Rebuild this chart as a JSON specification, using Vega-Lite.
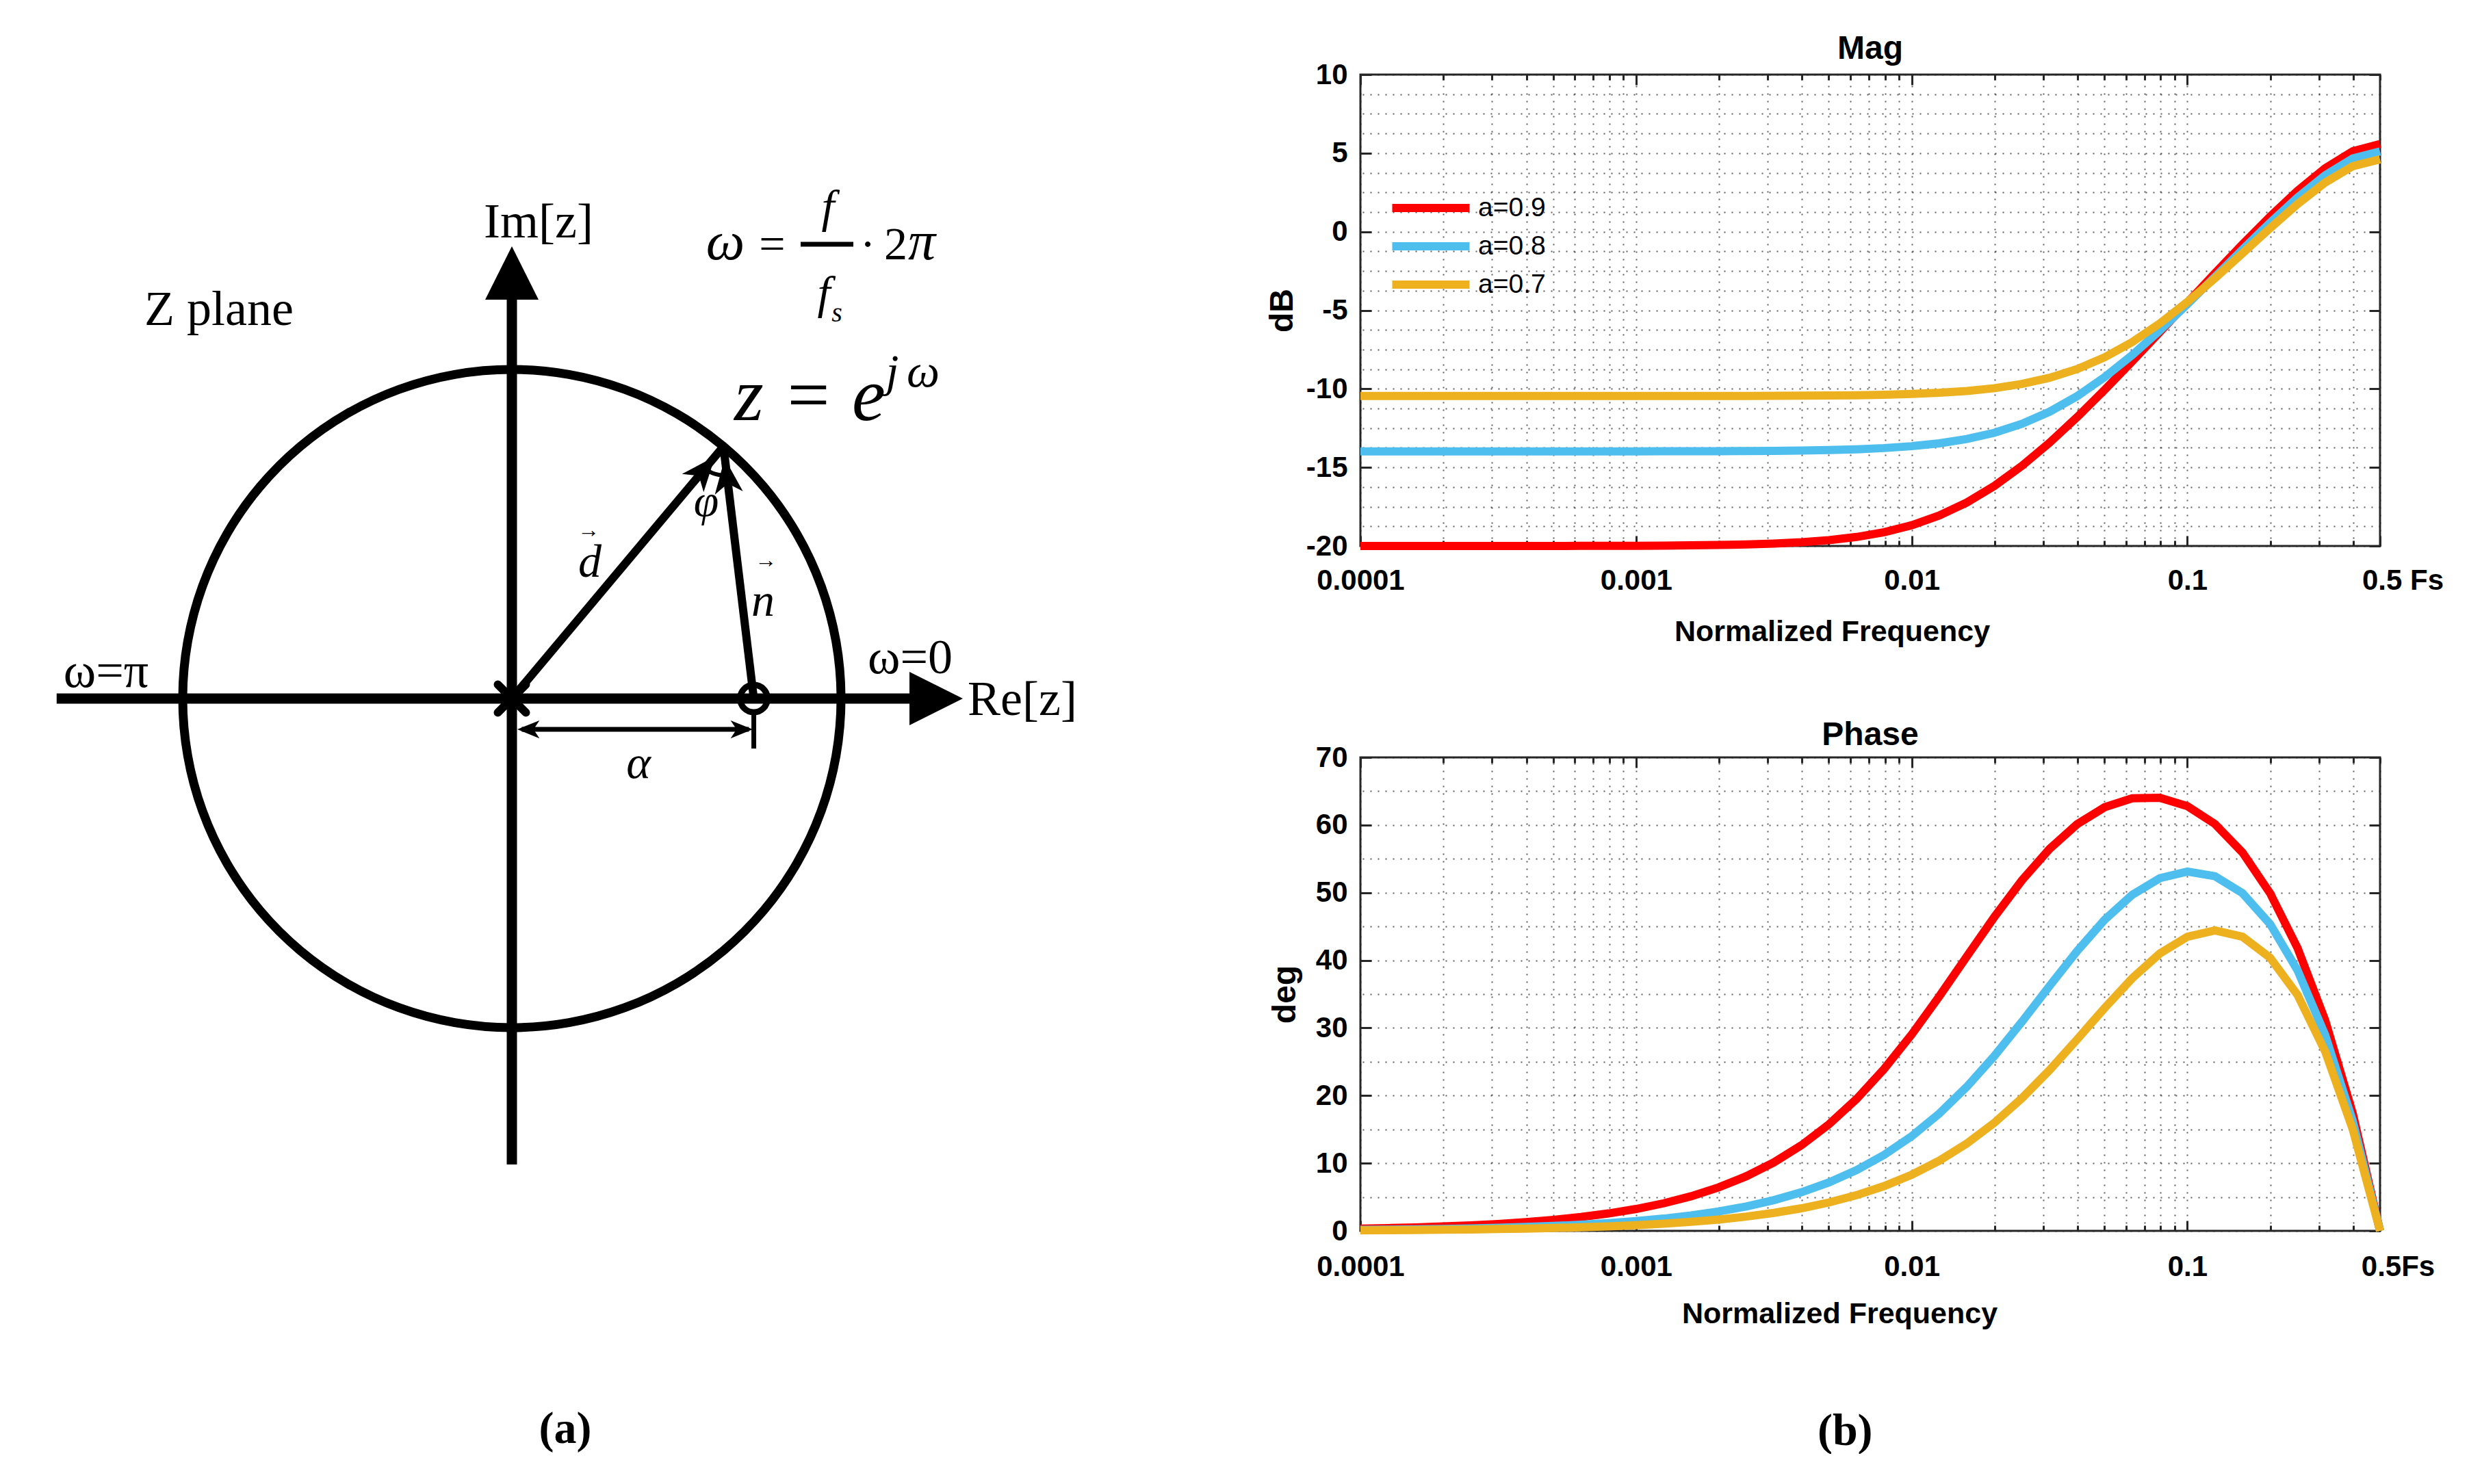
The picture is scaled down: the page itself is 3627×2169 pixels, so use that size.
{
  "$schema": "https://vega.github.io/schema/vega-lite/v6.json",
  "autosize": {"type": "pad"},
  "padding": {"left": 0, "top": 46, "right": 0, "bottom": 0},
  "background": "white",
  "config": {
    "font": "Liberation Sans",
    "view": {"stroke": null},
    "axis": {
      "labelFont": "Liberation Sans", "labelFontSize": 42, "labelFontWeight": "bold", "labelColor": "#000000",
      "tickColor": "#262626", "tickWidth": 3, "domain": false, "labelFlush": false, "labelOverlap": false,
      "titleFont": "Liberation Sans", "titleFontWeight": "bold", "titleColor": "#000000",
      "gridColor": "#262626", "gridDash": [2, 9], "gridWidth": 2, "gridOpacity": 0.75
    },
    "title": {"font": "Liberation Sans", "fontWeight": "bold", "color": "#000000"}
  },
  "datasets": {
    "mag": [
      {"f": 0.0001, "a9": -20.000, "a8": -13.979, "a7": -10.458},
      {"f": 0.00012589, "a9": -20.000, "a8": -13.979, "a7": -10.458},
      {"f": 0.00015849, "a9": -20.000, "a8": -13.979, "a7": -10.458},
      {"f": 0.00019953, "a9": -19.999, "a8": -13.979, "a7": -10.458},
      {"f": 0.00025119, "a9": -19.999, "a8": -13.979, "a7": -10.458},
      {"f": 0.00031623, "a9": -19.998, "a8": -13.979, "a7": -10.457},
      {"f": 0.00039811, "a9": -19.998, "a8": -13.979, "a7": -10.457},
      {"f": 0.00050119, "a9": -19.996, "a8": -13.978, "a7": -10.457},
      {"f": 0.00063096, "a9": -19.994, "a8": -13.978, "a7": -10.457},
      {"f": 0.00079433, "a9": -19.990, "a8": -13.977, "a7": -10.457},
      {"f": 0.001, "a9": -19.985, "a8": -13.976, "a7": -10.456},
      {"f": 0.0012589, "a9": -19.976, "a8": -13.974, "a7": -10.455},
      {"f": 0.0015849, "a9": -19.961, "a8": -13.971, "a7": -10.454},
      {"f": 0.0019953, "a9": -19.939, "a8": -13.966, "a7": -10.452},
      {"f": 0.0025119, "a9": -19.904, "a8": -13.958, "a7": -10.449},
      {"f": 0.0031623, "a9": -19.848, "a8": -13.945, "a7": -10.444},
      {"f": 0.0039811, "a9": -19.762, "a8": -13.925, "a7": -10.437},
      {"f": 0.0050119, "a9": -19.629, "a8": -13.894, "a7": -10.424},
      {"f": 0.0063096, "a9": -19.425, "a8": -13.845, "a7": -10.405},
      {"f": 0.0079433, "a9": -19.122, "a8": -13.768, "a7": -10.374},
      {"f": 0.01, "a9": -18.680, "a8": -13.649, "a7": -10.326},
      {"f": 0.012589, "a9": -18.061, "a8": -13.468, "a7": -10.251},
      {"f": 0.015849, "a9": -17.231, "a8": -13.194, "a7": -10.136},
      {"f": 0.019953, "a9": -16.175, "a8": -12.794, "a7": -9.957},
      {"f": 0.025119, "a9": -14.898, "a8": -12.227, "a7": -9.690},
      {"f": 0.031623, "a9": -13.428, "a8": -11.458, "a7": -9.298},
      {"f": 0.039811, "a9": -11.803, "a8": -10.467, "a7": -8.743},
      {"f": 0.050119, "a9": -10.065, "a8": -9.256, "a7": -7.990},
      {"f": 0.063096, "a9": -8.251, "a8": -7.849, "a7": -7.021},
      {"f": 0.079433, "a9": -6.391, "a8": -6.286, "a7": -5.837},
      {"f": 0.1, "a9": -4.513, "a8": -4.615, "a7": -4.469},
      {"f": 0.12589, "a9": -2.641, "a8": -2.882, "a7": -2.962},
      {"f": 0.15849, "a9": -0.803, "a8": -1.136, "a7": -1.375},
      {"f": 0.19953, "a9": 0.965, "a8": 0.573, "a7": 0.226},
      {"f": 0.25119, "a9": 2.609, "a8": 2.180, "a7": 1.762},
      {"f": 0.31623, "a9": 4.044, "a8": 3.592, "a7": 3.130},
      {"f": 0.39811, "a9": 5.124, "a8": 4.659, "a7": 4.171},
      {"f": 0.5, "a9": 5.575, "a8": 5.105, "a7": 4.609}
    ],
    "phase": [
      {"f": 0.0001, "a9": 0.324, "a8": 0.144, "a7": 0.084},
      {"f": 0.00012589, "a9": 0.408, "a8": 0.181, "a7": 0.106},
      {"f": 0.00015849, "a9": 0.513, "a8": 0.228, "a7": 0.133},
      {"f": 0.00019953, "a9": 0.646, "a8": 0.287, "a7": 0.168},
      {"f": 0.00025119, "a9": 0.814, "a8": 0.362, "a7": 0.211},
      {"f": 0.00031623, "a9": 1.024, "a8": 0.455, "a7": 0.266},
      {"f": 0.00039811, "a9": 1.290, "a8": 0.573, "a7": 0.334},
      {"f": 0.00050119, "a9": 1.623, "a8": 0.722, "a7": 0.421},
      {"f": 0.00063096, "a9": 2.043, "a8": 0.908, "a7": 0.530},
      {"f": 0.00079433, "a9": 2.572, "a8": 1.144, "a7": 0.667},
      {"f": 0.001, "a9": 3.236, "a8": 1.440, "a7": 0.840},
      {"f": 0.0012589, "a9": 4.071, "a8": 1.812, "a7": 1.057},
      {"f": 0.0015849, "a9": 5.119, "a8": 2.281, "a7": 1.331},
      {"f": 0.0019953, "a9": 6.433, "a8": 2.870, "a7": 1.675},
      {"f": 0.0025119, "a9": 8.075, "a8": 3.610, "a7": 2.108},
      {"f": 0.0031623, "a9": 10.120, "a8": 4.540, "a7": 2.653},
      {"f": 0.0039811, "a9": 12.652, "a8": 5.706, "a7": 3.338},
      {"f": 0.0050119, "a9": 15.755, "a8": 7.164, "a7": 4.197},
      {"f": 0.0063096, "a9": 19.504, "a8": 8.981, "a7": 5.274},
      {"f": 0.0079433, "a9": 23.942, "a8": 11.231, "a7": 6.621},
      {"f": 0.01, "a9": 29.042, "a8": 13.993, "a7": 8.298},
      {"f": 0.012589, "a9": 34.671, "a8": 17.337, "a7": 10.373},
      {"f": 0.015849, "a9": 40.582, "a8": 21.303, "a7": 12.916},
      {"f": 0.019953, "a9": 46.428, "a8": 25.871, "a7": 15.988},
      {"f": 0.025119, "a9": 51.833, "a8": 30.919, "a7": 19.617},
      {"f": 0.031623, "a9": 56.472, "a8": 36.202, "a7": 23.766},
      {"f": 0.039811, "a9": 60.119, "a8": 41.365, "a7": 28.302},
      {"f": 0.050119, "a9": 62.638, "a8": 45.993, "a7": 32.956},
      {"f": 0.063096, "a9": 63.960, "a8": 49.692, "a7": 37.341},
      {"f": 0.079433, "a9": 64.034, "a8": 52.146, "a7": 41.002},
      {"f": 0.1, "a9": 62.799, "a8": 53.121, "a7": 43.493},
      {"f": 0.12589, "a9": 60.154, "a8": 52.437, "a7": 44.426},
      {"f": 0.15849, "a9": 55.942, "a8": 49.920, "a7": 43.486},
      {"f": 0.19953, "a9": 49.928, "a8": 45.363, "a7": 40.391},
      {"f": 0.25119, "a9": 41.794, "a8": 38.492, "a7": 34.850},
      {"f": 0.31623, "a9": 31.116, "a8": 28.940, "a7": 26.522},
      {"f": 0.39811, "a9": 17.341, "a8": 16.231, "a7": 14.992},
      {"f": 0.5, "a9": 0, "a8": 0, "a7": 0}
    ],
    "circle": [
      {"i": 0, "x": 1, "y": 0}, {"i": 1, "x": 0.98481, "y": 0.17365}, {"i": 2, "x": 0.93969, "y": 0.34202},
      {"i": 3, "x": 0.86603, "y": 0.5}, {"i": 4, "x": 0.76604, "y": 0.64279}, {"i": 5, "x": 0.64279, "y": 0.76604},
      {"i": 6, "x": 0.5, "y": 0.86603}, {"i": 7, "x": 0.34202, "y": 0.93969}, {"i": 8, "x": 0.17365, "y": 0.98481},
      {"i": 9, "x": 0, "y": 1}, {"i": 10, "x": -0.17365, "y": 0.98481}, {"i": 11, "x": -0.34202, "y": 0.93969},
      {"i": 12, "x": -0.5, "y": 0.86603}, {"i": 13, "x": -0.64279, "y": 0.76604}, {"i": 14, "x": -0.76604, "y": 0.64279},
      {"i": 15, "x": -0.86603, "y": 0.5}, {"i": 16, "x": -0.93969, "y": 0.34202}, {"i": 17, "x": -0.98481, "y": 0.17365},
      {"i": 18, "x": -1, "y": 0}, {"i": 19, "x": -0.98481, "y": -0.17365}, {"i": 20, "x": -0.93969, "y": -0.34202},
      {"i": 21, "x": -0.86603, "y": -0.5}, {"i": 22, "x": -0.76604, "y": -0.64279}, {"i": 23, "x": -0.64279, "y": -0.76604},
      {"i": 24, "x": -0.5, "y": -0.86603}, {"i": 25, "x": -0.34202, "y": -0.93969}, {"i": 26, "x": -0.17365, "y": -0.98481},
      {"i": 27, "x": 0, "y": -1}, {"i": 28, "x": 0.17365, "y": -0.98481}, {"i": 29, "x": 0.34202, "y": -0.93969},
      {"i": 30, "x": 0.5, "y": -0.86603}, {"i": 31, "x": 0.64279, "y": -0.76604}, {"i": 32, "x": 0.76604, "y": -0.64279},
      {"i": 33, "x": 0.86603, "y": -0.5}, {"i": 34, "x": 0.93969, "y": -0.34202}, {"i": 35, "x": 0.98481, "y": -0.17365}
    ]
  },
  "bounds": "flush",
  "spacing": 336,
  "hconcat": [
    {
      "width": 1652,
      "height": 1690,
      "title": {"text": "(a)", "orient": "bottom", "frame": "group", "anchor": "middle", "offset": 310, "baseline": "alphabetic", "font": "Liberation Serif", "fontSize": 66, "fontWeight": "bold", "color": "#000000"},
      "encoding": {
        "x": {"field": "x", "type": "quantitative", "scale": {"domain": [-1.5551, 1.8794], "nice": false, "zero": false}, "axis": null},
        "y": {"field": "y", "type": "quantitative", "scale": {"domain": [-1.6175, 1.896], "nice": false, "zero": false}, "axis": null}
      },
      "layer": [
        {
          "data": {"name": "circle"},
          "mark": {"type": "line", "stroke": "#000000", "strokeWidth": 13, "interpolate": "cardinal-closed"},
          "encoding": {"order": {"field": "i", "type": "quantitative"}}
        },
        {
          "data": {"values": [{"x": -1.383, "y": 0, "x2": 1.25, "y2": 0}, {"x": 0, "y": -1.416, "x2": 0, "y2": 1.25}]},
          "mark": {"type": "rule", "color": "#000000", "strokeWidth": 15},
          "encoding": {"x2": {"field": "x2"}, "y2": {"field": "y2"}}
        },
        {
          "data": {"values": [{"x": 0, "y": 0, "x2": 0.6428, "y2": 0.766}, {"x": 0.735, "y": 0, "x2": 0.6428, "y2": 0.766}]},
          "mark": {"type": "rule", "color": "#000000", "strokeWidth": 12},
          "encoding": {"x2": {"field": "x2"}, "y2": {"field": "y2"}}
        },
        {
          "data": {"values": [{"x": 0.03, "y": -0.0936, "x2": 0.72, "y2": -0.0936}, {"x": 0.735, "y": -0.05, "x2": 0.735, "y2": -0.152}, {"x": 0.8773, "y": 1.3805, "x2": 1.0374, "y2": 1.3805}]},
          "mark": {"type": "rule", "color": "#000000", "strokeWidth": 7},
          "encoding": {"x2": {"field": "x2"}, "y2": {"field": "y2"}}
        },
        {
          "data": {"values": [{"i": 0, "x": 0.5867, "y": 0.6991}, {"i": 1, "x": 0.6018, "y": 0.6889}, {"i": 2, "x": 0.6187, "y": 0.6821}, {"i": 3, "x": 0.6367, "y": 0.6789}, {"i": 4, "x": 0.6534, "y": 0.6794}]},
          "mark": {"type": "line", "stroke": "#000000", "strokeWidth": 6, "interpolate": "monotone"},
          "encoding": {"order": {"field": "i", "type": "quantitative"}}
        },
        {
          "data": {"values": [{"x": 0, "y": 0}]},
          "mark": {"type": "point", "shape": "M-1,-1L1,1M1,-1L-1,1", "size": 1681, "filled": false, "stroke": "#000000", "strokeWidth": 12, "strokeCap": "round", "opacity": 1}
        },
        {
          "data": {"values": [{"x": 0.735, "y": 0}]},
          "mark": {"type": "point", "shape": "circle", "size": 1600, "filled": false, "stroke": "#000000", "strokeWidth": 9, "opacity": 1}
        },
        {
          "data": {"values": [{"x": 1.289, "y": 0}]},
          "mark": {"type": "point", "shape": "M0,-1L1,1L-1,1Z", "size": 6084, "filled": true, "color": "#000000", "angle": 90, "opacity": 1}
        },
        {
          "data": {"values": [{"x": 0, "y": 1.293}]},
          "mark": {"type": "point", "shape": "M0,-1L1,1L-1,1Z", "size": 6084, "filled": true, "color": "#000000", "angle": 0, "opacity": 1}
        },
        {
          "data": {"values": [{"x": 0.5809, "y": 0.6921}]},
          "mark": {"type": "point", "shape": "M0,-1L0.75,0.85L0,0.35L-0.75,0.85Z", "size": 3025, "filled": true, "color": "#000000", "angle": 39.9, "opacity": 1}
        },
        {
          "data": {"values": [{"x": 0.6535, "y": 0.673}]},
          "mark": {"type": "point", "shape": "M0,-1L0.75,0.85L0,0.35L-0.75,0.85Z", "size": 3025, "filled": true, "color": "#000000", "angle": 353.2, "opacity": 1}
        },
        {
          "data": {"values": [{"x": 0.053, "y": -0.0936}]},
          "mark": {"type": "point", "shape": "M0,-1L0.75,0.85L0,0.35L-0.75,0.85Z", "size": 1225, "filled": true, "color": "#000000", "angle": 270, "opacity": 1}
        },
        {
          "data": {"values": [{"x": 0.6954, "y": -0.0936}]},
          "mark": {"type": "point", "shape": "M0,-1L0.75,0.85L0,0.35L-0.75,0.85Z", "size": 1225, "filled": true, "color": "#000000", "angle": 90, "opacity": 1}
        },
        {
          "data": {"values": [
            {"x": 0.0811, "y": 1.4012, "t": "Im[z]"},
            {"x": -0.890, "y": 1.135, "t": "Z plane"},
            {"x": -1.2328, "y": 0.035, "t": "ω=π"},
            {"x": 1.21, "y": 0.077, "t": "ω=0"},
            {"x": 1.5509, "y": -0.0499, "t": "Re[z]"}
          ]},
          "mark": {"type": "text", "font": "Liberation Serif", "fontSize": 72, "align": "center", "baseline": "alphabetic", "color": "#000000"},
          "encoding": {"text": {"field": "t"}}
        },
        {
          "data": {"values": [
            {"x": 0.7911, "y": 1.3347, "t": "="},
            {"x": 1.0811, "y": 1.3347, "t": "·"},
            {"x": 1.1663, "y": 1.3347, "t": "2"}
          ]},
          "mark": {"type": "text", "font": "Liberation Serif", "fontSize": 68, "align": "center", "baseline": "alphabetic", "color": "#000000"},
          "encoding": {"text": {"field": "t"}}
        },
        {
          "data": {"values": [
            {"x": 0.6486, "y": 1.3347, "t": "ω"},
            {"x": 1.2453, "y": 1.3347, "t": "π"}
          ]},
          "mark": {"type": "text", "font": "Liberation Serif", "fontSize": 80, "fontStyle": "italic", "align": "center", "baseline": "alphabetic", "color": "#000000"},
          "encoding": {"text": {"field": "t"}}
        },
        {
          "data": {"values": [
            {"x": 0.9605, "y": 1.447, "t": "f"},
            {"x": 0.948, "y": 1.185, "t": "f"},
            {"x": 0.237, "y": 0.3701, "t": "d"},
            {"x": 0.763, "y": 0.2516, "t": "n"},
            {"x": 0.3846, "y": -0.2412, "t": "α"}
          ]},
          "mark": {"type": "text", "font": "Liberation Serif", "fontSize": 68, "fontStyle": "italic", "align": "center", "baseline": "alphabetic", "color": "#000000"},
          "encoding": {"text": {"field": "t"}}
        },
        {
          "data": {"values": [{"x": 0.9054, "y": 0.8462, "t": "z = e"}]},
          "mark": {"type": "text", "font": "Liberation Serif", "fontSize": 110, "fontStyle": "italic", "align": "center", "baseline": "alphabetic", "color": "#000000"},
          "encoding": {"text": {"field": "t"}}
        },
        {
          "data": {"values": [{"x": 1.156, "y": 0.948, "t": "j"}, {"x": 1.2495, "y": 0.948, "t": "ω"}]},
          "mark": {"type": "text", "font": "Liberation Serif", "fontSize": 68, "fontStyle": "italic", "align": "center", "baseline": "alphabetic", "color": "#000000"},
          "encoding": {"text": {"field": "t"}}
        },
        {
          "data": {"values": [{"x": 0.5904, "y": 0.5551, "t": "φ"}]},
          "mark": {"type": "text", "font": "Liberation Serif", "fontSize": 66, "fontStyle": "italic", "align": "center", "baseline": "alphabetic", "color": "#000000"},
          "encoding": {"text": {"field": "t"}}
        },
        {
          "data": {"values": [{"x": 0.9875, "y": 1.1455, "t": "s"}]},
          "mark": {"type": "text", "font": "Liberation Serif", "fontSize": 40, "fontStyle": "italic", "align": "center", "baseline": "alphabetic", "color": "#000000"},
          "encoding": {"text": {"field": "t"}}
        },
        {
          "data": {"values": [{"x": 0.2328, "y": 0.49, "t": "→"}, {"x": 0.7713, "y": 0.4, "t": "→"}]},
          "mark": {"type": "text", "font": "Liberation Serif", "fontSize": 32, "align": "center", "baseline": "alphabetic", "color": "#000000"},
          "encoding": {"text": {"field": "t"}}
        }
      ]
    },
    {
      "bounds": "flush",
      "spacing": 309,
      "title": {"text": "(b)", "orient": "bottom", "anchor": "middle", "offset": 168, "dx": -14, "baseline": "alphabetic", "font": "Liberation Serif", "fontSize": 66, "fontWeight": "bold", "color": "#000000"},
      "resolve": {"scale": {"color": "independent"}},
      "vconcat": [
        {
          "width": 1490,
          "height": 689,
          "view": {"stroke": "#262626", "strokeWidth": 3},
          "title": {"text": "Mag", "offset": 23, "dy": 69, "baseline": "alphabetic", "fontSize": 48, "anchor": "middle", "frame": "group"},
          "data": {"name": "mag"},
          "transform": [{"fold": ["a9", "a8", "a7"], "as": ["a", "v"]}],
          "layer": [
            {
              "mark": {"type": "line", "strokeWidth": 12, "clip": false},
              "encoding": {
                "x": {"field": "f", "type": "quantitative", "scale": {"type": "log", "domain": [0.0001, 0.5], "nice": false},
                  "axis": {"orient": "bottom", "values": [0.0001,0.0002,0.0003,0.0004,0.0005,0.0006,0.0007,0.0008,0.0009,0.001,0.002,0.003,0.004,0.005,0.006,0.007,0.008,0.009,0.01,0.02,0.03,0.04,0.05,0.06,0.07,0.08,0.09,0.1,0.2,0.3,0.4,0.5],
                    "labelExpr": "datum.value == 0.0001 ? '0.0001' : datum.value == 0.001 ? '0.001' : datum.value == 0.01 ? '0.01' : datum.value == 0.1 ? '0.1' : datum.value == 0.5 ? '0.5 Fs' : ''",
                    "labelOffset": {"condition": {"test": "datum.value == 0.5", "value": 33}, "value": 0},
                    "tickSize": {"condition": {"test": "datum.value == 0.0001 || datum.value == 0.001 || datum.value == 0.01 || datum.value == 0.1 || datum.value == 0.5", "value": -15}, "value": -8},
                    "grid": false, "labelPadding": 45,
                    "title": "Normalized Frequency", "titleFontSize": 43, "titleX": 689, "titleY": 138, "titleBaseline": "alphabetic", "titleAlign": "center", "titleAngle": 0}},
                "y": {"field": "v", "type": "quantitative", "scale": {"domain": [-20, 10], "nice": false, "zero": false},
                  "axis": {"orient": "left", "values": [-20, -15, -10, -5, 0, 5, 10], "labelExpr": "'' + datum.value", "tickSize": -16, "grid": false, "labelPadding": 35,
                    "title": "dB", "titleFontSize": 48, "titleX": -100, "titleY": 344.5, "titleBaseline": "alphabetic", "titleAngle": 270, "titleAlign": "center"}},
                "color": {"field": "a", "type": "nominal", "scale": {"domain": ["a9", "a8", "a7"], "range": ["#FF0000", "#4DBEEE", "#EDB120"]},
                  "legend": {"orient": "none", "legendX": 74, "legendY": 166, "title": null, "symbolType": "M-2.5,0H2.5", "symbolSize": 2043, "symbolStrokeWidth": 12,
                    "labelExpr": "'a=0.' + substring(datum.label, 1)",
                    "labelFont": "Liberation Sans", "labelFontSize": 39, "labelFontWeight": "normal", "labelColor": "#000000", "labelOffset": 40, "rowPadding": 3, "padding": 0}}
              }
            },
            {
              "mark": {"type": "point", "opacity": 0},
              "encoding": {
                "x": {"field": "f", "type": "quantitative", "scale": {"type": "log", "domain": [0.0001, 0.5], "nice": false},
                  "axis": {"orient": "top", "values": [0.0001,0.0002,0.0003,0.0004,0.0005,0.0006,0.0007,0.0008,0.0009,0.001,0.002,0.003,0.004,0.005,0.006,0.007,0.008,0.009,0.01,0.02,0.03,0.04,0.05,0.06,0.07,0.08,0.09,0.1,0.2,0.3,0.4,0.5],
                    "labels": false, "grid": true, "title": null,
                    "tickSize": {"condition": {"test": "datum.value == 0.0001 || datum.value == 0.001 || datum.value == 0.01 || datum.value == 0.1", "value": -15}, "value": -8}}},
                "y": {"field": "v", "type": "quantitative", "scale": {"domain": [-20, 10], "nice": false, "zero": false},
                  "axis": {"orient": "right", "values": [-20,-18.75,-17.5,-16.25,-15,-13.75,-12.5,-11.25,-10,-8.75,-7.5,-6.25,-5,-3.75,-2.5,-1.25,0,1.25,2.5,3.75,5,6.25,7.5,8.75,10],
                    "labels": false, "grid": true, "title": null,
                    "tickSize": {"condition": {"test": "datum.value % 5 == 0", "value": -16}, "value": 0}}}
              }
            }
          ],
          "resolve": {"axis": {"x": "independent", "y": "independent"}}
        },
        {
          "width": 1490,
          "height": 692,
          "view": {"stroke": "#262626", "strokeWidth": 3},
          "title": {"text": "Phase", "offset": 18, "dy": 69, "baseline": "alphabetic", "fontSize": 48, "anchor": "middle", "frame": "group"},
          "data": {"name": "phase"},
          "transform": [{"fold": ["a9", "a8", "a7"], "as": ["a", "v"]}],
          "layer": [
            {
              "mark": {"type": "line", "strokeWidth": 12, "clip": false},
              "encoding": {
                "x": {"field": "f", "type": "quantitative", "scale": {"type": "log", "domain": [0.0001, 0.5], "nice": false},
                  "axis": {"orient": "bottom", "values": [0.0001,0.0002,0.0003,0.0004,0.0005,0.0006,0.0007,0.0008,0.0009,0.001,0.002,0.003,0.004,0.005,0.006,0.007,0.008,0.009,0.01,0.02,0.03,0.04,0.05,0.06,0.07,0.08,0.09,0.1,0.2,0.3,0.4,0.5],
                    "labelExpr": "datum.value == 0.0001 ? '0.0001' : datum.value == 0.001 ? '0.001' : datum.value == 0.01 ? '0.01' : datum.value == 0.1 ? '0.1' : datum.value == 0.5 ? '0.5Fs' : ''",
                    "labelOffset": {"condition": {"test": "datum.value == 0.5", "value": 26}, "value": 0},
                    "tickSize": {"condition": {"test": "datum.value == 0.0001 || datum.value == 0.001 || datum.value == 0.01 || datum.value == 0.1 || datum.value == 0.5", "value": -15}, "value": -8},
                    "grid": false, "labelPadding": 47,
                    "title": "Normalized Frequency", "titleFontSize": 43, "titleX": 700, "titleY": 134, "titleBaseline": "alphabetic", "titleAlign": "center", "titleAngle": 0}},
                "y": {"field": "v", "type": "quantitative", "scale": {"domain": [0, 70], "nice": false, "zero": false},
                  "axis": {"orient": "left", "values": [0, 10, 20, 30, 40, 50, 60, 70], "labelExpr": "'' + datum.value", "tickSize": -16, "grid": false, "labelPadding": 35,
                    "title": "deg", "titleFontSize": 48, "titleX": -96, "titleY": 346, "titleBaseline": "alphabetic", "titleAngle": 270, "titleAlign": "center"}},
                "color": {"field": "a", "type": "nominal", "scale": {"domain": ["a9", "a8", "a7"], "range": ["#FF0000", "#4DBEEE", "#EDB120"]}, "legend": null}
              }
            },
            {
              "mark": {"type": "point", "opacity": 0},
              "encoding": {
                "x": {"field": "f", "type": "quantitative", "scale": {"type": "log", "domain": [0.0001, 0.5], "nice": false},
                  "axis": {"orient": "top", "values": [0.0001,0.0002,0.0003,0.0004,0.0005,0.0006,0.0007,0.0008,0.0009,0.001,0.002,0.003,0.004,0.005,0.006,0.007,0.008,0.009,0.01,0.02,0.03,0.04,0.05,0.06,0.07,0.08,0.09,0.1,0.2,0.3,0.4,0.5],
                    "labels": false, "grid": true, "title": null,
                    "tickSize": {"condition": {"test": "datum.value == 0.0001 || datum.value == 0.001 || datum.value == 0.01 || datum.value == 0.1", "value": -15}, "value": -8}}},
                "y": {"field": "v", "type": "quantitative", "scale": {"domain": [0, 70], "nice": false, "zero": false},
                  "axis": {"orient": "right", "values": [0,5,10,15,20,25,30,35,40,45,50,55,60,65,70],
                    "labels": false, "grid": true, "title": null,
                    "tickSize": {"condition": {"test": "datum.value % 10 == 0", "value": -16}, "value": 0}}}
              }
            }
          ],
          "resolve": {"axis": {"x": "independent", "y": "independent"}}
        }
      ]
    }
  ]
}
